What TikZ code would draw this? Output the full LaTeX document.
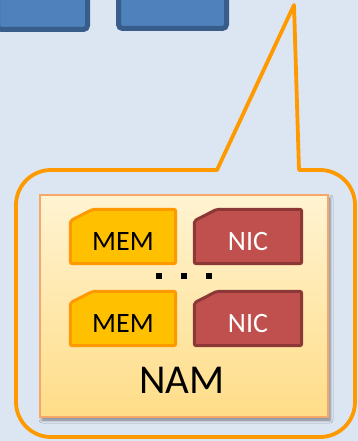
\documentclass[tikz,border=0pt]{standalone}
\usepackage{fontspec}
\setmainfont{Carlito}
\usetikzlibrary{calc,shadows.blur}
\definecolor{bgblue}{HTML}{DCE6F2}
\definecolor{boxblue}{HTML}{4F81BD}
\definecolor{boxblueedge}{HTML}{385D8A}
\definecolor{callorange}{HTML}{FF9900}
\definecolor{memfill}{HTML}{FFC000}
\definecolor{memedge}{HTML}{FF9900}
\definecolor{nicfill}{HTML}{C0504D}
\definecolor{nicedge}{HTML}{8C3836}
\definecolor{namtop}{HTML}{FFF3D2}
\definecolor{nambot}{HTML}{FFDD88}
\definecolor{namedge}{HTML}{F5A86A}
\tikzset{
  bluebox/.style={draw=boxblueedge, fill=boxblue, line width=5pt, rounded corners=4pt, inner sep=0pt},
  callout/.style={draw=callorange, line width=3.8pt, line join=round},
  nambox/.style={draw=namedge, line width=1.5pt, top color=namtop, bottom color=nambot, minimum width=288pt, minimum height=222pt, inner sep=0pt,
     blur shadow={shadow xshift=2pt, shadow yshift=-3pt, shadow blur radius=3pt, shadow opacity=45}},
  slot/.style={minimum height=57pt, inner sep=0pt},
  memshape/.style={draw=memedge, fill=memfill, line width=3pt, rounded corners=2pt},
  nicshape/.style={draw=nicedge, fill=nicfill, line width=3pt, rounded corners=2pt},
  memtext/.style={font=\fontsize{28}{28}\selectfont, text=black, inner sep=0pt},
  nictext/.style={font=\fontsize{28}{28}\selectfont, text=white, inner sep=0pt},
  namtext/.style={font=\fontsize{41}{41}\selectfont, text=black, inner sep=0pt},
  dotsq/.style={fill=black, minimum size=6pt, inner sep=0pt},
}
\newcommand\snippath[2]{%
  \path[#2] ($(#1.north west)+(1.5,-13)$) -- ($(#1.north west)+(24,-1.5)$) -- ($(#1.north east)+(-1.5,-1.5)$) -- ($(#1.south east)+(-1.5,1.5)$) -- ($(#1.south west)+(1.5,1.5)$) -- cycle;}
\begin{document}
\begin{tikzpicture}[x=1pt,y=1pt]
\fill[bgblue] (0,0) rectangle (358,-441);
\useasboundingbox (0,0) rectangle (358,-441);
% top blue boxes
\node[bluebox, minimum width=90pt, minimum height=34pt] (blk1) at (42.5,-12.5) {};
\node[bluebox, minimum width=108pt, minimum height=33pt] (blk2) at (172.5,-12) {};
% callout
\draw[callout] (217,-170) -- (294,-5) -- (299,-170) -- (320,-170)
  arc[start angle=90,end angle=0,radius=35] -- (355,-402)
  arc[start angle=0,end angle=-90,radius=35] -- (51,-437)
  arc[start angle=270,end angle=180,radius=35] -- (16,-205)
  arc[start angle=180,end angle=90,radius=35] -- cycle;
% NAM box
\node[nambox] (nam) at (184,-306) {};
% slots
\node[slot, minimum width=108pt] (mem1) at (123,-236.5) {};
\node[slot, minimum width=110pt] (nic1) at (248,-236.5) {};
\node[slot, minimum width=108pt] (mem2) at (123,-318.5) {};
\node[slot, minimum width=110pt] (nic2) at (248,-318.5) {};
\snippath{mem1}{memshape}
\snippath{nic1}{nicshape}
\snippath{mem2}{memshape}
\snippath{nic2}{nicshape}
\node[memtext] (mem1t) at ([yshift=-5.5pt]mem1.center) {MEM};
\node[nictext] (nic1t) at ([yshift=-5.5pt]nic1.center) {NIC};
\node[memtext] (mem2t) at ([yshift=-5.5pt]mem2.center) {MEM};
\node[nictext] (nic2t) at ([yshift=-5.5pt]nic2.center) {NIC};
% dots
\node[dotsq] (d1) at (159,-276) {};
\node[dotsq] (d2) at (184,-276) {};
\node[dotsq] (d3) at (209,-276) {};
% label
\node[namtext] (namlabel) at (182,-380.5) {NAM};
\end{tikzpicture}
\end{document}
